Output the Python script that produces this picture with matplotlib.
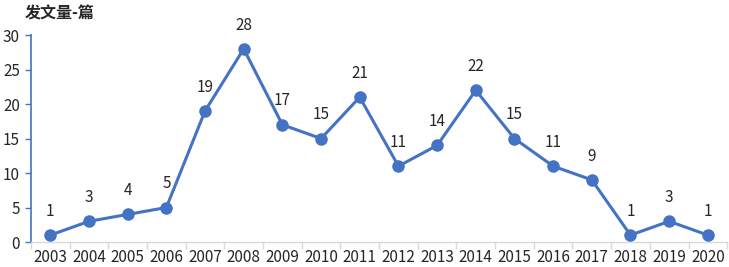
import matplotlib
matplotlib.use("Agg")
import matplotlib.pyplot as plt
import numpy as np

plt.rcParams['font.family'] = ['Noto Sans CJK SC', 'DejaVu Sans']

years = ["2003", "2004", "2005", "2006", "2007", "2008", "2009", "2010", "2011",
         "2012", "2013", "2014", "2015", "2016", "2017", "2018", "2019", "2020"]
counts = [1, 3, 4, 5, 19, 28, 17, 15, 21, 11, 14, 22, 15, 11, 9, 1, 3, 1]
title = "发文量-篇"

blue = "#4472C4"
txt = "#262626"
fig = plt.figure(figsize=(7.29, 2.67), dpi=100)
ax = fig.add_axes([0.0425, 0.0936, 0.955, 0.775])
x = np.arange(len(years))
ax.plot(x, counts, color=blue, lw=2.2, marker='o', ms=8, zorder=3)
for xi, v in zip(x, counts):
    ax.annotate(str(v), (xi, v), xytext=(0, 11), textcoords='offset points',
                ha='center', va='bottom', fontsize=11, color=txt)
ax.set_xlim(-0.5, len(years) - 0.5)
ax.set_ylim(0, 30)
ax.set_yticks(range(0, 31, 5))
ax.set_xticks(x)
ax.set_xticklabels(years)
ax.set_xticks(np.arange(-0.5, len(years), 1), minor=True)
ax.tick_params(axis='x', which='major', length=0, labelsize=11, pad=5, labelcolor=txt)
ax.tick_params(axis='x', which='minor', length=5, color='#d9d9d9', width=1)
ax.tick_params(axis='y', length=4, color=blue, width=1, labelsize=11, labelcolor=txt, pad=4)
for s in ['top', 'right']:
    ax.spines[s].set_visible(False)
ax.spines['left'].set_color(blue)
ax.spines['left'].set_linewidth(1.2)
ax.spines['bottom'].set_color('#d9d9d9')
ax.spines['bottom'].set_linewidth(1)
fig.text(0.034, 0.95, title, ha='left', va='center', fontsize=11.5, color=txt, fontweight='bold')
fig.savefig("out.png", dpi=100)
